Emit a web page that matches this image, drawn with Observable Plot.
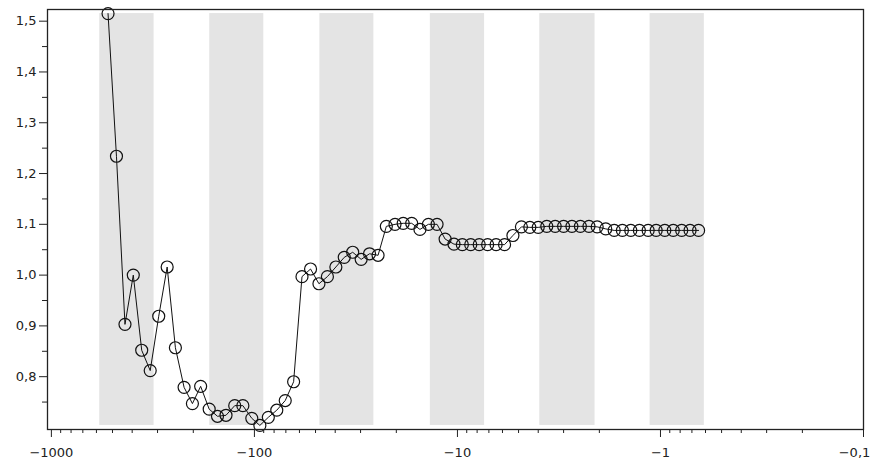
<!DOCTYPE html>
<html><head><meta charset="utf-8">
<script src="https://cdn.jsdelivr.net/npm/d3@7"></script>
<script src="https://cdn.jsdelivr.net/npm/@observablehq/plot@0.6"></script>
<style>body{margin:0;background:#fff;} svg{display:block}</style>
</head><body><div id="chart"></div>
<script>
const xValues = [-526,-478,-434,-395,-359,-326,-296,-269,-245,-222,-202,-184,-167,-152,-138,-125,-114,-103,-94.0,-85.4,-77.6,-70.5,-64.1,-58.3,-52.9,-48.1,-43.7,-39.7,-36.1,-32.8,-29.8,-27.1,-24.6,-22.4,-20.3,-18.5,-16.8,-15.3,-13.9,-12.6,-11.5,-10.4,-9.46,-8.60,-7.81,-7.10,-6.45,-5.86,-5.33,-4.84,-4.40,-4.00,-3.63,-3.30,-3.00,-2.73,-2.48,-2.25,-2.05,-1.86,-1.69,-1.54,-1.40,-1.27,-1.15,-1.05,-0.952,-0.865,-0.786,-0.715,-0.649];
const yValues = [1.515,1.234,0.903,1.000,0.852,0.812,0.919,1.016,0.857,0.779,0.747,0.781,0.736,0.722,0.724,0.743,0.743,0.718,0.704,0.720,0.734,0.753,0.790,0.997,1.012,0.983,0.997,1.016,1.035,1.045,1.031,1.042,1.039,1.096,1.100,1.102,1.102,1.090,1.100,1.100,1.071,1.061,1.060,1.060,1.060,1.060,1.060,1.060,1.078,1.095,1.094,1.094,1.096,1.096,1.096,1.096,1.096,1.096,1.095,1.091,1.088,1.088,1.088,1.088,1.088,1.088,1.088,1.088,1.088,1.088,1.088];
const bandStarts = [-578,-166,-47.6,-13.6,-3.93,-1.125];
const bandEnds = [-312,-89.9,-25.8,-7.35,-2.10,-0.608];
const xMajorTicks = [-1000,-100,-10,-1,-0.1];
const xMinorTicks = [-900,-800,-700,-600,-500,-400,-300,-200,-90,-80,-70,-60,-50,-40,-30,-20,-9,-8,-7,-6,-5,-4,-3,-2,-0.9,-0.8,-0.7,-0.6,-0.5,-0.4,-0.3,-0.2];
const yMajorTicks = [0.8,0.9,1.0,1.1,1.2,1.3,1.4,1.5];
const yMinorTicks = [0.75,0.85,0.95,1.05,1.15,1.25,1.35,1.45];

const points = xValues.map((x, i) => ({x, y: yValues[i]}));
const yMin = d3.min(yValues), yMax = d3.max(yValues);
const bands = bandStarts.map((s, i) => ({x1: s, x2: bandEnds[i], y1: yMin, y2: yMax}));

const fmtX = d => "\u2212" + String(-d).replace(".", ",");
const fmtY = d => d.toFixed(1).replace(".", ",");
const lastTick = xMajorTicks[xMajorTicks.length - 1];

const chart = Plot.plot({
  width: 872,
  height: 468,
  marginLeft: 47,
  marginRight: 9,
  marginTop: 9,
  marginBottom: 39,
  style: {fontFamily: "DejaVu Sans", fontSize: "13px", color: "#222", background: "#fff"},
  x: {type: "log", domain: [-1045, -0.1]},
  y: {domain: [0.696, 1.523]},
  marks: [
    Plot.rect(bands, {x1: "x1", x2: "x2", y1: "y1", y2: "y2", fill: "#e4e4e4"}),
    Plot.line(points, {x: "x", y: "y", stroke: "#111", strokeWidth: 1}),
    Plot.dot(points, {x: "x", y: "y", r: 6, stroke: "#111", strokeWidth: 1.2, fill: "none"}),
    Plot.axisX(xMajorTicks.slice(0, -1), {tickSize: 8, tickPadding: 10, tickFormat: fmtX, stroke: "#222"}),
    Plot.axisX([lastTick], {tickSize: 8, tickFormat: null, stroke: "#222", text: null}),
    Plot.axisX([lastTick], {tickSize: 0, tickPadding: 18, tickFormat: fmtX, dx: -9}),
    Plot.axisX(xMinorTicks, {tickSize: 4, tickFormat: () => "", stroke: "#222"}),
    Plot.axisY(yMajorTicks, {tickSize: 8, tickPadding: 3, tickFormat: fmtY, stroke: "#222"}),
    Plot.axisY(yMinorTicks, {tickSize: 5, tickFormat: () => "", stroke: "#222"}),
    Plot.frame({stroke: "#222", strokeWidth: 1.3})
  ]
});
document.getElementById("chart").append(chart);
</script>
</body></html>
